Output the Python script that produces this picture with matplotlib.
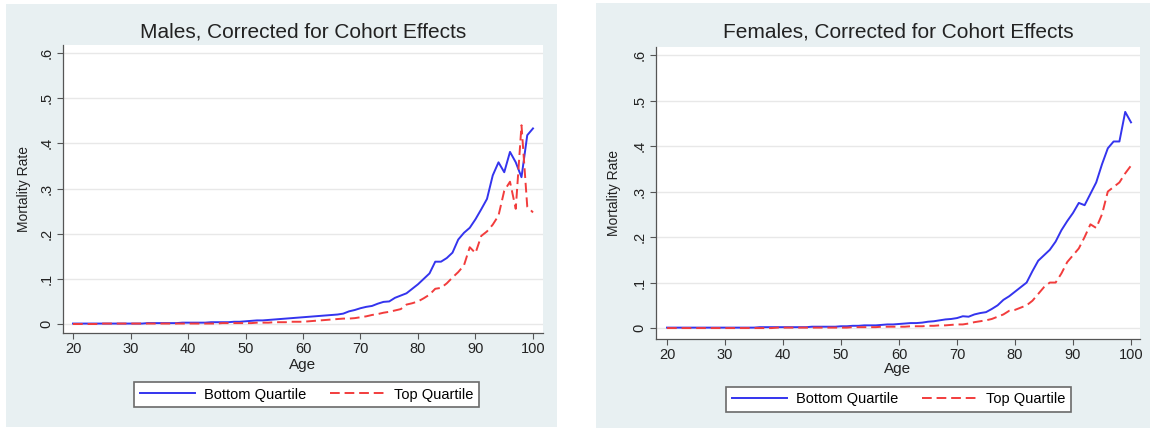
import numpy as np
import matplotlib.pyplot as plt
from matplotlib.patches import Rectangle

plt.rcParams["font.family"] = ["Liberation Sans", "DejaVu Sans"]

# data
ages = list(range(20, 101))

male_bottom = [
    0.001, 0.001, 0.001, 0.001, 0.001, 0.001, 0.001, 0.001, 0.001, 0.001,
    0.001, 0.001, 0.001, 0.002, 0.002, 0.002, 0.002, 0.002, 0.002, 0.003,
    0.003, 0.003, 0.003, 0.003, 0.004, 0.004, 0.004, 0.004, 0.005, 0.005,
    0.006, 0.007, 0.008, 0.008, 0.009, 0.010, 0.011, 0.012, 0.013, 0.014,
    0.015, 0.016, 0.017, 0.018, 0.019, 0.020, 0.021, 0.023, 0.028, 0.031,
    0.035, 0.038, 0.040, 0.045, 0.049, 0.050, 0.058, 0.063, 0.068, 0.078,
    0.088, 0.100, 0.112, 0.138, 0.138, 0.146, 0.158, 0.187, 0.202, 0.213,
    0.232, 0.254, 0.277, 0.329, 0.358, 0.336, 0.381, 0.358, 0.325, 0.418,
    0.433,
]
male_top = [
    0.000, 0.000, 0.000, 0.000, 0.000, 0.001, 0.001, 0.001, 0.001, 0.001,
    0.001, 0.001, 0.001, 0.001, 0.001, 0.001, 0.001, 0.001, 0.001, 0.001,
    0.001, 0.001, 0.001, 0.001, 0.001, 0.001, 0.002, 0.002, 0.002, 0.002,
    0.002, 0.002, 0.003, 0.003, 0.003, 0.004, 0.004, 0.004, 0.005, 0.005,
    0.005, 0.006, 0.007, 0.008, 0.009, 0.010, 0.011, 0.012, 0.012, 0.013,
    0.015, 0.017, 0.020, 0.022, 0.025, 0.027, 0.030, 0.033, 0.043, 0.046,
    0.050, 0.057, 0.065, 0.078, 0.080, 0.090, 0.103, 0.115, 0.130, 0.170,
    0.157, 0.195, 0.205, 0.220, 0.240, 0.295, 0.315, 0.255, 0.440, 0.260,
    0.247,
]
female_bottom = [
    0.001, 0.001, 0.001, 0.001, 0.001, 0.001, 0.001, 0.001, 0.001, 0.001,
    0.001, 0.001, 0.001, 0.001, 0.001, 0.001, 0.002, 0.002, 0.002, 0.002,
    0.002, 0.002, 0.002, 0.002, 0.002, 0.003, 0.003, 0.003, 0.003, 0.003,
    0.004, 0.004, 0.005, 0.005, 0.006, 0.006, 0.006, 0.007, 0.008, 0.008,
    0.009, 0.010, 0.011, 0.011, 0.012, 0.014, 0.015, 0.017, 0.019, 0.020,
    0.022, 0.026, 0.025, 0.030, 0.033, 0.035, 0.042, 0.050, 0.062, 0.070,
    0.080, 0.090, 0.100, 0.125, 0.148, 0.160, 0.172, 0.190, 0.215, 0.235,
    0.253, 0.275, 0.270, 0.295, 0.320, 0.360, 0.395, 0.410, 0.410, 0.475,
    0.452,
]
female_top = [
    0.000, 0.000, 0.000, 0.000, 0.000, 0.000, 0.000, 0.000, 0.000, 0.000,
    0.000, 0.000, 0.000, 0.000, 0.000, 0.000, 0.000, 0.000, 0.000, 0.001,
    0.001, 0.001, 0.001, 0.001, 0.001, 0.001, 0.001, 0.001, 0.001, 0.001,
    0.001, 0.001, 0.002, 0.002, 0.002, 0.002, 0.002, 0.003, 0.003, 0.003,
    0.003, 0.003, 0.004, 0.004, 0.004, 0.005, 0.005, 0.006, 0.006, 0.007,
    0.008, 0.008, 0.010, 0.013, 0.015, 0.017, 0.020, 0.025, 0.030, 0.038,
    0.040, 0.045, 0.050, 0.060, 0.075, 0.090, 0.100, 0.100, 0.120, 0.145,
    0.160, 0.175, 0.200, 0.228, 0.220, 0.250, 0.300, 0.310, 0.320, 0.340,
    0.357,
]

titles = ["Males, Corrected for Cohort Effects", "Females, Corrected for Cohort Effects"]
series_labels = ["Bottom Quartile", "Top Quartile"]
yticks = [0, 0.1, 0.2, 0.3, 0.4, 0.5, 0.6]
ytick_labels = ["0", ".1", ".2", ".3", ".4", ".5", ".6"]
xticks = [20, 30, 40, 50, 60, 70, 80, 90, 100]

W, H = 1150, 429
bg = "#e8f0f2"
blue = "#3434ee"
red = "#f23c3c"

fig = plt.figure(figsize=(W / 100, H / 100), dpi=100)

# panel backgrounds (pixel boxes -> figure fraction)
def px_rect(x0, y0, x1, y1, **kw):
    return Rectangle((x0 / W, 1 - y1 / H), (x1 - x0) / W, (y1 - y0) / H,
                     transform=fig.transFigure, zorder=-10, **kw)

fig.patches.append(px_rect(6, 4, 557, 427, facecolor=bg, edgecolor="none"))
fig.patches.append(px_rect(596, 3, 1150, 428, facecolor=bg, edgecolor="none"))

# panel layout in pixels: plot box, ylim, legend centre
panels = [
    dict(box=(63, 45, 543, 333), xlim=(18.26, 101.74), ylim=(-0.0199, 0.6177),
         leg=(306.5, 394.5), ylab_x=-0.067, xlab_y=-0.088,
         data=(male_bottom, male_top), title=titles[0]),
    dict(box=(656, 47, 1140, 339), xlim=(18.1, 101.55), ylim=(-0.024, 0.6176),
         leg=(898.5, 399.5), ylab_x=-0.072, xlab_y=-0.080,
         data=(female_bottom, female_top), title=titles[1]),
]

for p in panels:
    x0, y0, x1, y1 = p["box"]
    ax = fig.add_axes([x0 / W, 1 - y1 / H, (x1 - x0) / W, (y1 - y0) / H])
    ax.set_facecolor("white")

    bottom, top = p["data"]
    ax.plot(ages, bottom, color=blue, lw=1.4, label=series_labels[0], zorder=3)
    ax.plot(ages, top, color=red, lw=1.4, dashes=(5, 2.5), label=series_labels[1], zorder=3)

    ax.set_xlim(*p["xlim"])
    ax.set_ylim(*p["ylim"])
    ax.set_xticks(xticks)
    ax.set_yticks(yticks)
    ax.set_yticklabels(ytick_labels, rotation=90, va="center")
    ax.grid(axis="y", color="#e8e8e8", lw=1.0, zorder=0)
    ax.set_axisbelow(True)

    for side in ["top", "right"]:
        ax.spines[side].set_visible(False)
    for side in ["left", "bottom"]:
        ax.spines[side].set_color("#555555")
        ax.spines[side].set_linewidth(0.9)
    ax.tick_params(axis="both", direction="out", length=4, width=0.8,
                   color="#555555", labelsize=10.5, labelcolor="#222222")
    ax.tick_params(axis="x", pad=2.5)
    ax.tick_params(axis="y", pad=3)

    ax.set_xlabel("Age", fontsize=11, color="#222222")
    ax.xaxis.set_label_coords(0.5, p["xlab_y"])
    ax.set_ylabel("Mortality Rate", fontsize=10, color="#222222")
    ax.yaxis.set_label_coords(p["ylab_x"], 0.5)

    # title centred over plot region
    fig.text((x0 + x1) / 2 / W, 1 - 32 / H, p["title"], ha="center", va="center",
             fontsize=15, color="#222222")

    lx, ly = p["leg"]
    leg = ax.legend(loc="center", bbox_to_anchor=(lx / W, 1 - ly / H),
                    bbox_transform=fig.transFigure, ncol=2, fontsize=10.5,
                    frameon=True, fancybox=False, framealpha=1,
                    edgecolor="#6a6a6a", handlelength=3.8, columnspacing=1.6,
                    handletextpad=0.6, borderpad=0.4)
    leg.get_frame().set_linewidth(1.2)

fig.savefig("out.png", dpi=100)
